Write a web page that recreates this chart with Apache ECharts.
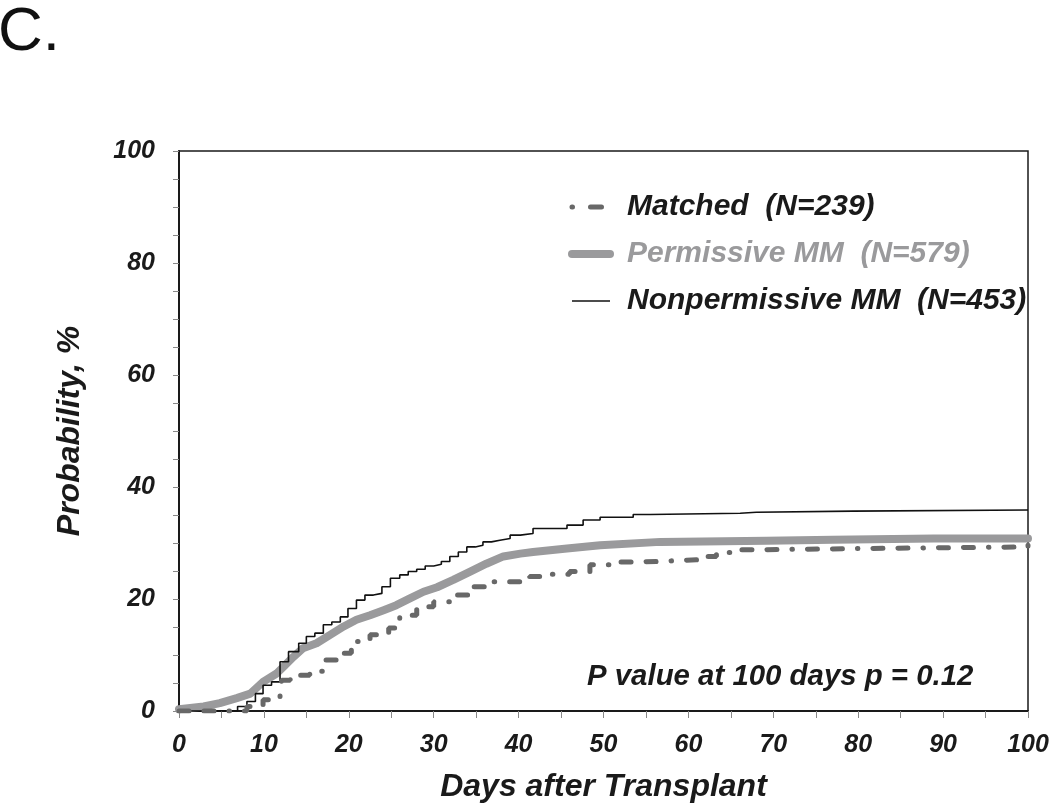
<!DOCTYPE html>
<html>
<head>
<meta charset="utf-8">
<script src="https://cdn.jsdelivr.net/npm/echarts@6/dist/echarts.min.js"></script>
<style>html,body{margin:0;padding:0;background:#fff}#chart{width:1050px;height:805px}</style>
</head>
<body>
<div id="chart"></div>
<script>
// ---- data ----
const seriesNames = ['Matched  (N=239)', 'Permissive MM  (N=579)', 'Nonpermissive MM  (N=453)'];

const matchedDays   = [0, 6.6, 8, 9.9, 11.9, 12.1, 13.1, 15.4, 17.2, 19, 20.3, 22.5, 24.7, 26, 28, 30, 31.9, 34.3, 36.6, 39.8, 41.3, 43.7, 46, 48.4, 50.8, 53.5, 56.3, 61, 63.3, 65.9, 68.4, 80, 100];
const matchedVals   = [0, 0, 0.8, 2, 4, 5.5, 6.4, 7.1, 9.1, 10.3, 12.4, 13.6, 14.8, 17.1, 18.6, 19.5, 20.7, 22.2, 23.1, 23.1, 24, 24.4, 24.9, 26.1, 26.6, 26.7, 27, 27.6, 28.3, 28.8, 29, 29.3, 29.6];

const permissiveDays = [0, 2.9, 4.8, 6.8, 8.4, 9.9, 11.5, 12.5, 13.5, 14.6, 16.2, 17.8, 19.4, 20.9, 22.5, 24.1, 25.6, 27.2, 28.8, 30.4, 32.3, 34.3, 36.2, 38.2, 40.2, 41.7, 45.7, 49.6, 56.7, 69.2, 77, 88.9, 100];
const permissiveVals = [0.3, 0.8, 1.4, 2.3, 3.1, 5.2, 6.7, 8.2, 9.7, 11.2, 12.1, 13.6, 15.1, 16.3, 17.1, 18, 18.9, 20.1, 21.3, 22.1, 23.4, 24.9, 26.3, 27.6, 28.1, 28.4, 29, 29.6, 30.2, 30.4, 30.6, 30.8, 30.8];

const nonpermDays = [0, 5.8, 6.9, 8, 9, 9.9, 10.9, 11.9, 12.9, 14.1, 15, 16, 17, 18, 19, 19.9, 20.9, 21.9, 22.9, 23.9, 24.9, 26, 27, 28, 29, 30, 30.9, 31.9, 32.9, 33.9, 34.9, 35.8, 36.8, 37.8, 39, 40.2, 41.7, 45.7, 47.6, 49.6, 53.5, 55.5, 66.1, 68, 79.4, 100];
const nonpermVals = [0, 0, 0.8, 1.7, 3.1, 4.6, 5.2, 8.8, 10.6, 12.1, 13.3, 13.9, 15.4, 15.9, 16.8, 18.3, 19.8, 20.7, 21, 22.2, 23.7, 24.3, 24.9, 25.3, 25.9, 26.2, 26.7, 27.6, 28.4, 29.3, 29.6, 30.2, 30.5, 30.8, 31.4, 31.7, 32.6, 33.2, 34.1, 34.6, 35.1, 35.3, 35.5, 35.7, 35.9, 35.9];

const xTickValues = [0, 10, 20, 30, 40, 50, 60, 70, 80, 90, 100];
const yTickValues = [0, 20, 40, 60, 80, 100];
const pValueText = 'P value at 100 days p = 0.12';
const panelLabel = 'C.';

// ---- chart ----
const FONT = '"Liberation Sans", Arial, Helvetica, sans-serif';
const pair = (xs, ys) => xs.map((x, i) => [x, ys[i]]);

const chart = echarts.init(document.getElementById('chart'), null, {renderer: 'canvas'});
const labelStyle = {fontFamily: FONT, fontWeight: 'bold', fontStyle: 'italic', fontSize: 25, color: '#1a1a1a'};
const nameStyle = {fontFamily: FONT, fontWeight: 'bold', fontStyle: 'italic', fontSize: 32, color: '#1a1a1a'};

chart.setOption({
  animation: false,
  backgroundColor: '#fff',
  grid: {left: 179, top: 151, right: 22, bottom: 94, containLabel: false, outerBoundsMode: 'none',
         show: true, borderColor: '#1a1a1a', borderWidth: 1.5, backgroundColor: 'transparent'},
  legend: {
    orient: 'vertical', left: 563, top: 187, itemWidth: 38, itemHeight: 10, itemGap: 17,
    itemStyle: {opacity: 0},
    data: [
      {name: seriesNames[0], textStyle: {color: '#1a1a1a'},
       lineStyle: {width: 5, color: '#686868', type: [0.5, 18, 11, 20], cap: 'round'}},
      {name: seriesNames[1], textStyle: {color: '#9a9a9c'},
       lineStyle: {width: 8, color: '#9a9a9c', type: 'solid', cap: 'round'}},
      {name: seriesNames[2], textStyle: {color: '#1a1a1a'},
       lineStyle: {width: 1.5, color: '#111', type: 'solid'}}
    ],
    textStyle: {fontFamily: FONT, fontWeight: 'bold', fontStyle: 'italic', fontSize: 30, padding: [0, 0, 0, 12]},
    selectedMode: false
  },
  xAxis: {
    type: 'value', min: 0, max: 100, interval: 10,
    name: 'Days after Transplant', nameLocation: 'middle', nameGap: 60, nameTextStyle: nameStyle,
    axisLine: {lineStyle: {color: '#1a1a1a', width: 2}},
    axisTick: {show: true, length: 7, lineStyle: {color: '#888', width: 1}},
    minorTick: {show: true, splitNumber: 2, length: 7, lineStyle: {color: '#888', width: 1}},
    axisLabel: Object.assign({margin: 22, customValues: xTickValues}, labelStyle),
    splitLine: {show: false}
  },
  yAxis: {
    type: 'value', min: 0, max: 100, interval: 20,
    name: 'Probability, %', nameLocation: 'middle', nameGap: 93, nameTextStyle: nameStyle,
    axisLine: {show: true, lineStyle: {color: '#1a1a1a', width: 2}},
    axisTick: {show: true, length: 6, lineStyle: {color: '#888', width: 1}},
    minorTick: {show: true, splitNumber: 4, length: 6, lineStyle: {color: '#888', width: 1}},
    axisLabel: Object.assign({margin: 24, customValues: yTickValues}, labelStyle),
    splitLine: {show: false}
  },
  series: [
    {
      name: seriesNames[1], type: 'line', symbol: 'none', z: 2,
      data: pair(permissiveDays, permissiveVals),
      lineStyle: {color: '#9a9a9c', width: 8, cap: 'round', join: 'round'},
      itemStyle: {color: '#9a9a9c'}
    },
    {
      name: seriesNames[2], type: 'line', step: 'end', symbol: 'none', z: 3,
      data: pair(nonpermDays, nonpermVals),
      lineStyle: {color: '#111', width: 1.6},
      itemStyle: {color: '#111'}
    },
    {
      name: seriesNames[0], type: 'line', step: 'end', symbol: 'none', z: 4,
      data: pair(matchedDays, matchedVals),
      lineStyle: {color: '#686868', width: 5, cap: 'round', type: [10, 15, 10, 15, 0.5, 15]},
      itemStyle: {color: '#686868'}
    }
  ],
  graphic: [
    {type: 'text', left: -2, top: 2, style: {text: panelLabel, fontFamily: FONT, fontSize: 62, fill: '#111'}},
    {type: 'text', left: 587, top: 662, style: {text: pValueText, fontFamily: FONT, fontWeight: 'bold', fontStyle: 'italic', fontSize: 29.4, fill: '#1a1a1a'}}
  ]
});
</script>
</body>
</html>
